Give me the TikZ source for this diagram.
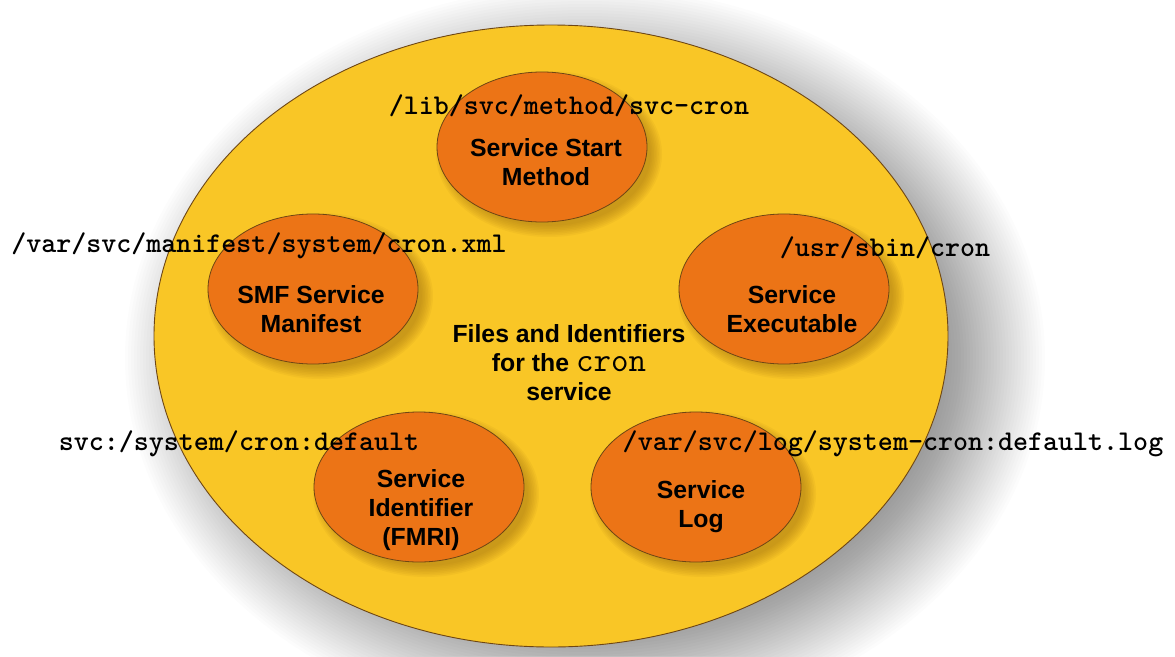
\documentclass[tikz,border=0pt]{standalone}
\usepackage{fontspec}
\setmainfont{Liberation Sans}
\usetikzlibrary{shapes.geometric}
\definecolor{ygold}{RGB}{249,198,38}
\definecolor{oorange}{RGB}{236,116,22}
\definecolor{edgebrown}{RGB}{110,70,20}
\definecolor{shadowbrown}{RGB}{150,105,15}
\tikzset{
  bigell/.style={ellipse, minimum width=794pt, minimum height=622pt, inner sep=0pt,
    fill=ygold, draw=edgebrown, line width=0.9pt},
  orb/.style={ellipse, minimum width=210pt, minimum height=150pt, inner sep=0pt,
    fill=oorange, draw=edgebrown, line width=0.8pt},
  lbl/.style={font=\fontsize{24.8}{29}\selectfont\bfseries, align=center, text=black, inner sep=0pt},
  pathlbl/.style={font=\ttfamily\bfseries\fontsize{28.6}{28}\selectfont, text=black, inner sep=0pt},
}
\begin{document}
\begin{tikzpicture}[x=1pt,y=-1pt]
\useasboundingbox (0,0) rectangle (1175,656);
\fill[white] (0,0) rectangle (1175,656);
% soft shadow of the big ellipse
\foreach \i in {0,...,39} {
  \fill[black,opacity=0.013] (585,358) ellipse ({460pt-3pt*\i} and {372pt-3pt*\i});
}
\node[bigell] (outer) at (551,336) {};
% soft shadows of the orange discs
\foreach \cx/\cy in {542/147, 313/289, 784/289, 419/487, 696/487} {
  \foreach \j in {0,...,7} {
    \fill[shadowbrown,opacity=0.07] (\cx+7,\cy+7) ellipse ({113pt-1.6pt*\j} and {83pt-1.6pt*\j});
  }
}
\node[orb] (start) at (542,147) {};
\node[orb] (manifest) at (313,289) {};
\node[orb] (exec) at (784,289) {};
\node[orb] (ident) at (419,487) {};
\node[orb] (log) at (696,487) {};
% disc texts
\node[lbl] (startT) at (546,162) {Service Start\\Method};
\node[lbl] (manifestT) at (311,309) {SMF Service\\Manifest};
\node[lbl] (execT) at (792,309) {Service\\Executable};
\node[lbl] (identT) at (421,510) {Service\\Identifier\\(FMRI)};
\node[lbl] (logT) at (701,507) {Service\\Log};
\node[lbl] (centerT) at (569,363) {Files and Identifiers\\for the {\ttfamily\mdseries\fontsize{34}{29}\selectfont cron}\\service};
% path labels
\node[pathlbl] (startP) at (569,106) {/lib/svc/method/svc-cron};
\node[pathlbl] (manifestP) at (259,246) {/var/svc/manifest/system/cron.xml};
\node[pathlbl] (execP) at (885,248) {/usr/sbin/cron};
\node[pathlbl] (identP) at (239,444) {svc:/system/cron:default};
\node[pathlbl] (logP) at (893,444) {/var/svc/log/system-cron:default.log};
\end{tikzpicture}
\end{document}
